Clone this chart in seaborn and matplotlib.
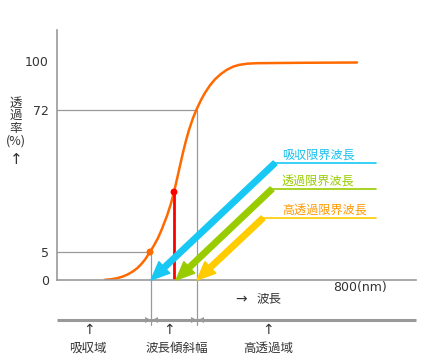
import matplotlib
matplotlib.use("Agg")
import matplotlib.pyplot as plt
import seaborn as sns
import pandas as pd

# ---- data (schematic units: x = wavelength position, y = display level) ----
curve_x = [48, 54, 60, 65, 70, 75, 80, 84, 88, 93, 97, 101, 105, 110, 114, 117,
           120, 123, 126, 129, 132, 136, 140, 144, 148, 153, 158, 164, 170, 176,
           182, 190, 200, 243, 300]
curve_y = [0.2, 0.7, 1.8, 3.2, 5.2, 8.0, 11.6, 15.6, 20.4, 28, 34.6, 42, 51.2,
           64.2, 76.6, 88, 101, 114.3, 127.5, 139.5, 150, 162, 171.6, 180, 187.2,
           194.7, 200.7, 206.1, 210.3, 213.3, 215.1, 216.3, 216.8, 217.2, 217.5]

ytick_pos = [0, 28, 170, 219]
ytick_lab = ["0", "5", "72", "100"]
xtick_pos = [303]
xtick_lab = ["800(nm)"]

edge_low = (94, 28)      # 5% point -> absorption edge
edge_mid = (117, 88)     # 50% point
edge_high = (140, 170)   # 72% point

arrow_names = ["吸収限界波長", "透過限界波長", "高透過限界波長"]
arrow_tips = [94, 119, 140]
arrow_start_x = [218, 215, 206]
arrow_start_y = [117, 91, 62]
arrow_cols = ["#18c8f4", "#99cc00", "#ffcc00"]
label_cols = ["#18c0f0", "#99cc00", "#ff9900"]
leader_end = 319

region_names = ["吸収域", "波長傾斜幅", "高透過域"]
region_arrow_x = [32, 112, 211]
region_text_x = [31, 120, 211]

GRAY = "#999999"
TXT = "#333333"

sns.set_theme(style="white")
plt.rcParams["font.family"] = ["Noto Sans CJK JP", "DejaVu Sans"]

fig = plt.figure(figsize=(4.4, 3.64), dpi=100)
ax = fig.add_axes([57 / 440, 84 / 364, 359 / 440, 250 / 364])
ax.set_xlim(0, 359)
ax.set_ylim(0, 250)

for s in ["top", "right"]:
    ax.spines[s].set_visible(False)
for s in ["left", "bottom"]:
    ax.spines[s].set_color(GRAY)
    ax.spines[s].set_linewidth(1.2)

ax.set_yticks(ytick_pos, ytick_lab, fontsize=9, color=TXT, family="DejaVu Sans")
ax.set_xticks(xtick_pos, xtick_lab, fontsize=9, color=TXT, family="DejaVu Sans")
ax.tick_params(axis="y", direction="in", length=4, width=1, color=GRAY, pad=6)
ax.tick_params(axis="x", direction="in", length=5, width=1, color=GRAY, pad=1)

# guide lines
ax.plot([0, edge_low[0]], [edge_low[1], edge_low[1]], color=GRAY, lw=0.9)
ax.plot([0, edge_high[0]], [edge_high[1], edge_high[1]], color=GRAY, lw=0.9)
for ex, ey in [edge_low, edge_high]:
    ax.plot([ex, ex], [ey, -45], color=GRAY, lw=0.9, clip_on=False)

# transmission curve
df = pd.DataFrame({"x": curve_x, "y": curve_y})
sns.lineplot(data=df, x="x", y="y", ax=ax, color="#ff6a00", lw=1.8, sort=False)
ax.set_xlabel("")
ax.set_ylabel("")

# 50% line and points
ax.plot([edge_mid[0], edge_mid[0]], [0, edge_mid[1]], color="#ff0000", lw=2)
sns.scatterplot(x=[edge_low[0] - 1], y=[edge_low[1]], ax=ax, color="#ff6a00",
                s=25, edgecolor="none", zorder=5)
sns.scatterplot(x=[edge_mid[0]], y=[edge_mid[1]], ax=ax, color="#ff0000",
                s=25, edgecolor="none", zorder=5)

# arrows with leaders and labels
for name, tip, sx, sy, ac, lc in zip(arrow_names, arrow_tips, arrow_start_x,
                                     arrow_start_y, arrow_cols, label_cols):
    ax.annotate("", xy=(tip, 0), xytext=(sx, sy),
                arrowprops=dict(arrowstyle="simple,head_length=1.1,head_width=0.95,tail_width=0.33",
                                color=ac, shrinkA=0, shrinkB=0, mutation_scale=12),
                annotation_clip=False)
    ax.plot([sx, leader_end], [sy, sy], color=ac, lw=1.2)
    ax.text(225, sy + 8, name, color=lc, fontsize=8.7, ha="left", va="center")

# axis captions
ax.text(-41, 158, "透\n過\n率\n(%)", fontsize=9, color=TXT, ha="center",
        va="center", linespacing=0.95, clip_on=False)
ax.text(-41, 120, "↑", fontsize=11, color=TXT, ha="center", va="center",
        family="DejaVu Sans")
ax.text(178, -19, "→", fontsize=10, color=TXT, ha="left", va="center",
        family="DejaVu Sans")
ax.text(199, -19, "波長", fontsize=9, color=TXT, ha="left", va="center")

# region band below
ax.plot([0, 359], [-40, -40], color=GRAY, lw=2.2, clip_on=False, solid_capstyle="butt")
for ex in [edge_low[0], edge_high[0]]:
    ax.plot([ex - 3.5], [-40], marker=">", color=GRAY, ms=5, clip_on=False, mew=0)
    ax.plot([ex + 3.5], [-40], marker="<", color=GRAY, ms=5, clip_on=False, mew=0)
for name, axp, tx in zip(region_names, region_arrow_x, region_text_x):
    ax.text(axp, -50, "↑", fontsize=10, color=TXT, ha="center", va="center",
            family="DejaVu Sans")
    ax.text(tx, -68, name, fontsize=9, color=TXT, ha="center", va="center")

fig.savefig("out.png", dpi=100, facecolor="white")
